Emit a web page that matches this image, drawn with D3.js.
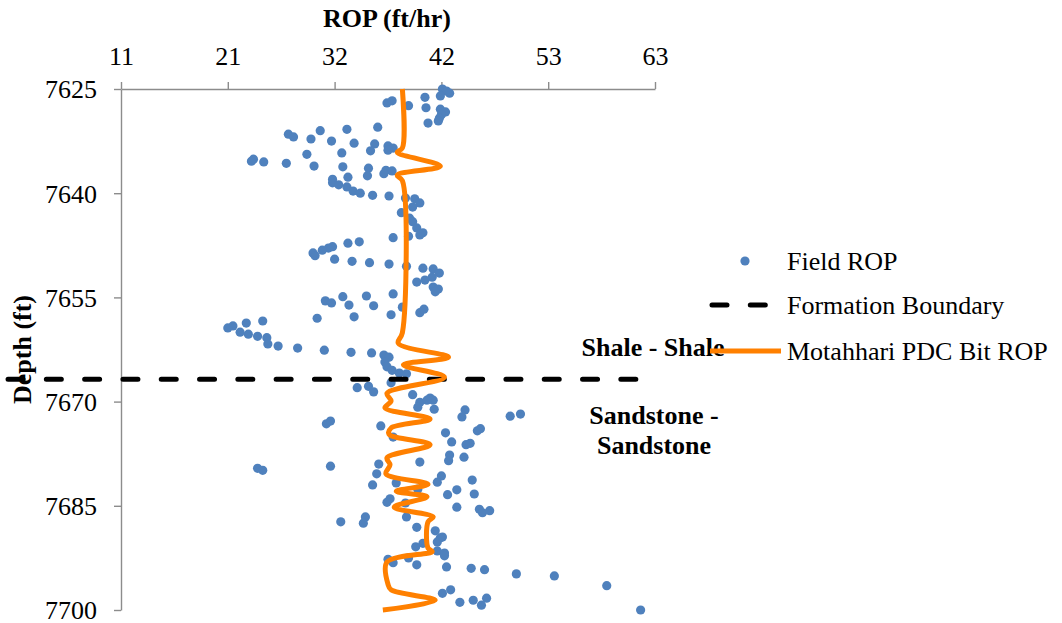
<!DOCTYPE html>
<html>
<head>
<meta charset="utf-8">
<script src="https://cdn.jsdelivr.net/npm/d3@7"></script>
<style>
  body { margin: 0; background: #fff; }
  text { font-family: "Liberation Serif", "Times New Roman", serif; fill: #000; }
</style>
</head>
<body>
<svg id="chart" width="1062" height="623"></svg>
<script>
// field ROP measurements (depth ft, ROP ft/hr)
const fieldDepth = [
  7625.0, 7625.3, 7625.6, 7626.0, 7626.2, 7627.0, 7626.7, 7627.4, 7627.7, 7627.9,
  7628.3, 7628.7, 7629.2, 7629.6, 7629.9, 7630.5, 7630.8, 7631.0, 7631.5, 7631.9,
  7632.2, 7632.5, 7632.8, 7632.9, 7633.9, 7633.2, 7633.5, 7633.8, 7634.4, 7634.2,
  7635.1, 7635.4, 7635.5, 7635.7, 7636.1, 7636.2, 7636.4, 7637.5, 7636.7, 7636.8,
  7637.2, 7637.7, 7638.0, 7638.5, 7638.8, 7639.1, 7639.7, 7640.0, 7640.3, 7640.4,
  7640.7, 7640.8, 7641.4, 7642.0, 7642.8, 7643.6, 7644.1, 7645.0, 7645.7, 7646.0,
  7646.4, 7646.2, 7647.2, 7647.0, 7647.7, 7647.9, 7648.2, 7648.6, 7649.0, 7649.5,
  7649.8, 7650.0, 7650.2, 7650.5, 7650.8, 7650.9, 7651.5, 7652.1, 7652.8, 7652.5,
  7653.5, 7653.8, 7654.2, 7655.5, 7655.8, 7654.9, 7656.1, 7654.8, 7654.5, 7656.2,
  7656.4, 7657.5, 7657.2, 7656.7, 7658.0, 7657.8, 7658.4, 7658.7, 7659.1, 7659.4,
  7660.0, 7660.3, 7660.6, 7660.8, 7661.7, 7662.0, 7662.3, 7662.6, 7662.9, 7663.0,
  7663.3, 7663.6, 7664.3, 7665.0, 7665.5, 7665.9, 7666.0, 7668.0, 7667.8, 7668.6,
  7667.3, 7669.0, 7669.5, 7669.8, 7670.1, 7670.8, 7671.1, 7669.8, 7671.2, 7672.2,
  7672.1, 7671.8, 7673.2, 7672.8, 7673.5, 7674.5, 7675.8, 7674.2, 7673.9, 7675.1,
  7676.2, 7676.0, 7677.7, 7678.5, 7678.0, 7678.7, 7679.3, 7679.0, 7680.4, 7682.0,
  7680.7, 7681.6, 7681.3, 7681.7, 7682.7, 7683.4, 7683.3, 7682.6, 7684.0, 7684.5,
  7684.6, 7685.2, 7685.5, 7686.0, 7685.7, 7687.3, 7686.6, 7687.5, 7686.6, 7688.1,
  7688.6, 7689.6, 7690.2, 7689.5, 7690.9, 7690.4, 7691.5, 7691.8, 7692.2, 7692.7,
  7693.2, 7692.5, 7693.5, 7693.8, 7694.0, 7694.2, 7694.8, 7695.1, 7696.5, 7697.6,
  7697.1, 7698.9, 7698.6, 7699.3, 7698.3, 7700.0, 7679.6, 7679.9
];
const fieldRop = [
  42.3, 42.7, 43.0, 42.1, 40.6, 36.9, 37.4, 39.0, 40.7, 42.1,
  42.6, 42.2, 42.0, 41.9, 40.9, 36.0, 33.0, 30.4, 27.3, 27.8,
  29.5, 31.5, 33.7, 35.7, 35.3, 37.0, 37.5, 37.0, 29.1, 32.5,
  23.9, 23.7, 24.9, 27.1, 29.8, 32.6, 35.1, 35.0, 36.8, 37.4,
  36.6, 33.1, 31.6, 31.6, 32.2, 33.0, 33.6, 34.3, 35.5, 37.1,
  38.7, 39.6, 40.1, 39.4, 38.3, 39.1, 39.4, 39.8, 40.4, 40.1,
  37.5, 39.0, 33.1, 34.2, 31.6, 31.2, 30.6, 29.7, 29.9, 31.8,
  33.5, 35.2, 37.1, 38.8, 40.4, 41.4, 42.0, 41.3, 39.8, 40.6,
  41.4, 41.9, 41.6, 30.9, 31.5, 32.6, 33.2, 34.9, 37.5, 35.6,
  38.4, 37.3, 40.1, 40.5, 30.1, 33.7, 24.8, 23.2, 21.9, 21.4,
  22.6, 23.4, 24.3, 25.2, 25.3, 26.3, 28.2, 30.8, 33.4, 35.4,
  36.6, 37.1, 36.7, 36.9, 37.4, 38.1, 38.8, 34.0, 35.1, 35.6,
  37.3, 39.4, 41.1, 41.4, 40.1, 39.9, 41.5, 40.8, 44.5, 44.2,
  48.9, 49.9, 31.0, 31.4, 36.3, 42.6, 43.2, 45.7, 46.0, 37.5,
  44.6, 45.0, 43.0, 42.9, 44.4, 40.1, 31.4, 36.1, 35.9, 35.5,
  42.2, 41.8, 45.2, 37.8, 43.7, 42.8, 45.4, 39.9, 37.2, 36.9,
  38.7, 43.7, 45.9, 46.2, 46.9, 32.4, 34.8, 34.6, 38.8, 39.8,
  41.6, 42.1, 41.8, 42.3, 39.7, 40.4, 41.8, 42.5, 42.5, 37.0,
  37.5, 39.0, 39.8, 42.7, 45.1, 46.4, 49.5, 53.2, 58.3, 42.3,
  43.1, 44.0, 45.3, 46.1, 46.6, 61.6, 24.3, 24.8
];

// Motahhari PDC bit model
const modelDepth = [
  7625.0, 7633.5, 7634.1, 7636.1, 7637.4, 7638.2, 7660.1, 7661.6, 7663.6, 7664.7,
  7666.5, 7668.8, 7669.9, 7670.9, 7672.5, 7673.8, 7674.7, 7676.2, 7678.1, 7679.1,
  7680.4, 7681.9, 7682.9, 7683.7, 7685.2, 7686.6, 7687.3, 7691.1, 7691.6, 7693.1,
  7696.3, 7697.1, 7698.6, 7700.0
];
const modelRop = [
  38.4, 38.4, 37.9, 42.1, 37.9, 38.4, 38.4, 38.0, 42.9, 38.5,
  42.5, 36.9, 37.3, 36.7, 41.1, 37.3, 37.1, 41.1, 36.9, 37.2,
  36.8, 40.9, 37.8, 40.8, 37.6, 41.4, 40.9, 40.9, 41.3, 36.9,
  37.0, 37.3, 41.6, 36.5
];

// formation boundary
const boundaryDepth = 7666.8;
const boundaryRop = [0, 63];

const xTicks = [11, 21.4, 31.8, 42.2, 52.6, 63];
const yTicks = [7625, 7640, 7655, 7670, 7685, 7700];

const svg = d3.select("#chart");
const x = d3.scaleLinear().domain([11, 63]).range([121, 655]);
const y = d3.scaleLinear().domain([7625, 7700]).range([89, 610]);

svg.append("rect").attr("width", 1062).attr("height", 623).attr("fill", "#fff");

// axes
const xAxis = svg.append("g")
  .attr("transform", "translate(0," + y(7625) + ")")
  .call(d3.axisTop(x).tickValues(xTicks).tickFormat(d3.format(".0f")).tickSize(7).tickSizeOuter(0).tickPadding(17));
const yAxis = svg.append("g")
  .attr("transform", "translate(" + x(11) + ",0)")
  .call(d3.axisLeft(y).tickValues(yTicks).tickFormat(d => d).tickSize(7).tickSizeOuter(0).tickPadding(17));

[xAxis, yAxis].forEach(a => {
  a.select(".domain").attr("stroke", "#8c8c8c").attr("stroke-width", 1.4);
  a.selectAll(".tick line").attr("stroke", "#8c8c8c").attr("stroke-width", 1.4);
  a.selectAll(".tick text")
    .attr("font-family", "Liberation Serif, Times New Roman, serif")
    .attr("font-size", "26px")
    .attr("fill", "#000");
});
yAxis.selectAll(".tick text").attr("dy", "0.34em");

// field points
const pts = fieldDepth.map((d, i) => ({ depth: d, rop: fieldRop[i] }));
svg.append("g").selectAll("circle")
  .data(pts)
  .enter()
  .append("circle")
  .attr("cx", d => x(d.rop))
  .attr("cy", d => y(d.depth))
  .attr("r", 4.6)
  .attr("fill", "#4f81bd");

// boundary
svg.append("line")
  .attr("x1", x(boundaryRop[0]))
  .attr("x2", x(boundaryRop[1]))
  .attr("y1", y(boundaryDepth))
  .attr("y2", y(boundaryDepth))
  .attr("stroke", "#000")
  .attr("stroke-width", 5)
  .attr("stroke-linecap", "round")
  .attr("stroke-dasharray", "15,23.3");

// model line
const model = modelDepth.map((d, i) => ({ depth: d, rop: modelRop[i] }));
svg.append("path")
  .datum(model)
  .attr("fill", "none")
  .attr("stroke", "#ff8000")
  .attr("stroke-width", 5)
  .attr("stroke-linejoin", "round")
  .attr("d", d3.line().x(d => x(d.rop)).y(d => y(d.depth)).curve(d3.curveCatmullRom.alpha(0.5)));

// titles
svg.append("text")
  .attr("x", 387).attr("y", 27)
  .attr("text-anchor", "middle")
  .attr("font-size", "26px").attr("font-weight", "bold")
  .text("ROP (ft/hr)");
svg.append("text")
  .attr("transform", "translate(31," + (y(7625) + y(7700)) / 2 + ") rotate(-90)")
  .attr("text-anchor", "middle")
  .attr("font-size", "26px").attr("font-weight", "bold")
  .text("Depth (ft)");

// formation labels
svg.append("text").attr("x", 653).attr("y", 356).attr("text-anchor", "middle")
  .attr("font-size", "26px").attr("font-weight", "bold").text("Shale - Shale");
svg.append("text").attr("x", 654).attr("y", 424).attr("text-anchor", "middle")
  .attr("font-size", "26px").attr("font-weight", "bold").text("Sandstone -");
svg.append("text").attr("x", 654).attr("y", 454).attr("text-anchor", "middle")
  .attr("font-size", "26px").attr("font-weight", "bold").text("Sandstone");

// legend
const lg = svg.append("g");
lg.append("circle").attr("cx", 745).attr("cy", 261).attr("r", 4.6).attr("fill", "#4f81bd");
lg.append("text").attr("x", 787).attr("y", 269.5).attr("font-size", "26px").text("Field ROP");
lg.append("line").attr("x1", 712).attr("x2", 770).attr("y1", 305).attr("y2", 305)
  .attr("stroke", "#000").attr("stroke-width", 5).attr("stroke-linecap", "round")
  .attr("stroke-dasharray", "15,23.3");
lg.append("text").attr("x", 787).attr("y", 314).attr("font-size", "26px").text("Formation Boundary");
lg.append("line").attr("x1", 710).attr("x2", 781).attr("y1", 351).attr("y2", 351)
  .attr("stroke", "#ff8000").attr("stroke-width", 5);
lg.append("text").attr("x", 787).attr("y", 360).attr("font-size", "26px").text("Motahhari PDC Bit ROP");
</script>
</body>
</html>
